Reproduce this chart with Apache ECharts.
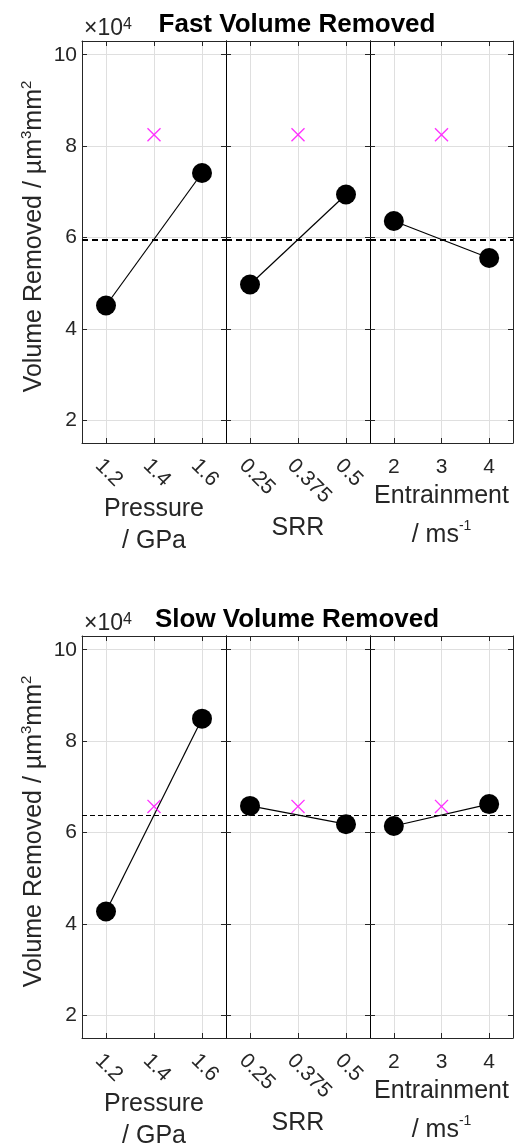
<!DOCTYPE html>
<html><head><meta charset="utf-8">
<script src="https://cdn.jsdelivr.net/npm/echarts@6/dist/echarts.min.js"></script>
<style>html,body{margin:0;padding:0;background:#fff}#c{width:529px;height:1148px}</style>
</head><body><div id="c"></div>
<script>
// ---- data ----
const pressureTicks = [1.2, 1.4, 1.6];
const srrTicks = [0.25, 0.375, 0.5];
const entrainTicks = [2, 3, 4];
const yTicks = [20000, 40000, 60000, 80000, 100000];

const fastPressure = [45100, 74100];
const fastSRR = [49700, 69400];
const fastEntrain = [63600, 55500];
const fastMean = 59600;
const fastCentre = 82500;

const slowPressure = [42700, 84900];
const slowSRR = [65800, 61800];
const slowEntrain = [61400, 66200];
const slowMean = 63800;
const slowCentre = 65700;

// ---- layout ----
const FONT = "'Liberation Sans', Arial, Helvetica, sans-serif";
const AX = '#262626';
const GRIDC = '#dfdfdf';
const lefts = [82, 226, 370];
const widths = [144, 144, 143];
const gridH = 402;
const yMin = 15000, yMax = 103000;

const panels = [
  {ticks: pressureTicks, name: '{a|Pressure}\n{a|/ GPa}', gap: 50, rotate: -45},
  {ticks: srrTicks, name: '{a|SRR}', gap: 69, rotate: -45},
  {ticks: entrainTicks, name: '{a|Entrainment}\n{b|/ ms}{s|-1}', gap: 37, rotate: 0}
];
const rows = [
  {top: 41, vals: [fastPressure, fastSRR, fastEntrain], mean: fastMean, centre: fastCentre,
   title: 'Fast Volume Removed', dash: {width: 2, type: [6, 4]}},
  {top: 636, vals: [slowPressure, slowSRR, slowEntrain], mean: slowMean, centre: slowCentre,
   title: 'Slow Volume Removed', dash: {width: 1, type: [5, 3]}}
];

const grid = [], xAxis = [], yAxis = [], series = [], graphic = [];
const nameRich = {
  a: {fontSize: 25, lineHeight: 32, fontFamily: FONT, color: AX},
  b: {fontSize: 25, lineHeight: 46, fontFamily: FONT, color: AX},
  s: {fontSize: 14, lineHeight: 14, padding: [0, 0, 18, 0], verticalAlign: 'middle', fontFamily: FONT, color: AX}
};

rows.forEach((row, r) => {
  panels.forEach((p, c) => {
    const gi = grid.length;
    grid.push({left: lefts[c], top: row.top, width: widths[c], height: gridH, outerBoundsMode: 'none', containLabel: false});
    const step = p.ticks[1] - p.ticks[0];
    const xmin = p.ticks[0] - step / 2, xmax = p.ticks[2] + step / 2;
    const common = {type: 'value', gridIndex: gi, min: xmin, max: xmax};
    const bx = xAxis.length;
    xAxis.push(Object.assign({}, common, {
      position: 'bottom',
      name: p.name, nameLocation: 'middle', nameGap: p.gap, nameMoveOverlap: false,
      nameTextStyle: {rich: nameRich, fontFamily: FONT, fontSize: 25, color: AX},
      axisLine: {show: true, onZero: false, lineStyle: {color: AX, width: 1}},
      axisTick: {show: true, inside: true, length: 5, customValues: p.ticks, lineStyle: {color: AX}},
      axisLabel: {show: true, customValues: p.ticks, formatter: v => String(v),
        rotate: p.rotate, align: p.rotate ? 'left' : 'center', verticalAlign: 'top',
        margin: p.rotate ? 12 : 14, fontSize: 21, fontFamily: FONT, color: AX},
      splitLine: {show: true, lineStyle: {color: GRIDC, width: 1}}
    }));
    xAxis.push(Object.assign({}, common, {
      position: 'top',
      axisLine: {show: true, onZero: false, lineStyle: {color: AX, width: 1}},
      axisTick: {show: true, inside: true, length: 5, customValues: p.ticks, lineStyle: {color: AX}},
      axisLabel: {show: false}, splitLine: {show: false}
    }));
    const ly = yAxis.length;
    const ycommon = {type: 'value', gridIndex: gi, min: yMin, max: yMax};
    const yl = Object.assign({}, ycommon, {
      position: 'left',
      axisLine: {show: true, onZero: false, lineStyle: {color: c === 0 ? AX : '#000', width: 1}},
      axisTick: {show: true, inside: true, length: 5, customValues: yTicks, lineStyle: {color: AX}},
      axisLabel: {show: c === 0, customValues: yTicks, formatter: v => String(v / 10000),
        margin: 5, fontSize: 21, fontFamily: FONT, color: AX},
      splitLine: {show: true, lineStyle: {color: GRIDC, width: 1}}
    });
    if (c === 0) {
      yl.name = '{a0|Volume Removed / µm}{s|3}{a|mm}{s|2}';
      yl.nameLocation = 'middle';
      yl.nameGap = 33;
      yl.nameMoveOverlap = false;
      yl.nameTextStyle = {fontFamily: FONT, fontSize: 25, color: AX, rich: {
        a0: {fontSize: 25, lineHeight: 30, fontFamily: FONT, color: AX, padding: [0, 0, 0, 11]},
        a: {fontSize: 25, lineHeight: 30, fontFamily: FONT, color: AX},
        s: {fontSize: 15, lineHeight: 2, verticalAlign: 'top', fontFamily: FONT, color: AX}
      }};
    }
    yAxis.push(yl);
    yAxis.push(Object.assign({}, ycommon, {
      position: 'right',
      axisLine: {show: true, onZero: false, lineStyle: {color: c < 2 ? '#000' : AX, width: 1}},
      axisTick: {show: true, inside: true, length: 5, customValues: yTicks, lineStyle: {color: AX}},
      axisLabel: {show: false}, splitLine: {show: false}
    }));
    const v = row.vals[c];
    series.push({
      type: 'line', xAxisIndex: bx, yAxisIndex: ly,
      data: [[p.ticks[0], v[0]], [p.ticks[2], v[1]]],
      symbol: 'circle', symbolSize: 20, showSymbol: true,
      itemStyle: {color: '#000'}, lineStyle: {color: '#000', width: 1.2},
      z: 3,
      markLine: {silent: true, symbol: 'none', label: {show: false},
        lineStyle: {color: '#000', width: row.dash.width, type: row.dash.type},
        data: [{yAxis: row.mean}], z: 2}
    });
    series.push({
      type: 'scatter', xAxisIndex: bx, yAxisIndex: ly,
      data: [[p.ticks[1], row.centre]],
      symbol: 'path://M0,0.7L0.7,0L5,4.3L9.3,0L10,0.7L5.7,5L10,9.3L9.3,10L5,5.7L0.7,10L0,9.3L4.3,5Z',
      symbolSize: 14, itemStyle: {color: '#ff00ff'}, z: 4
    });
  });
  // title and exponent label
  graphic.push({type: 'text', x: 297, y: row.top - 16, style: {
    text: row.title, textAlign: 'center', textVerticalAlign: 'middle',
    font: 'bold 26px ' + FONT, fill: '#000'}});
  graphic.push({type: 'text', x: 84, y: row.top - 12, style: {
    text: '{m|×10}{s|4}', textAlign: 'left', textVerticalAlign: 'middle',
    rich: {
      m: {fontSize: 23, lineHeight: 24, fill: AX, fontFamily: FONT},
      s: {fontSize: 16, verticalAlign: 'top', lineHeight: 4, fill: AX, fontFamily: FONT}
    }}});
});

const chart = echarts.init(document.getElementById('c'), null, {renderer: 'canvas'});
chart.setOption({animation: false, backgroundColor: '#fff', grid, xAxis, yAxis, series, graphic});
</script></body></html>
